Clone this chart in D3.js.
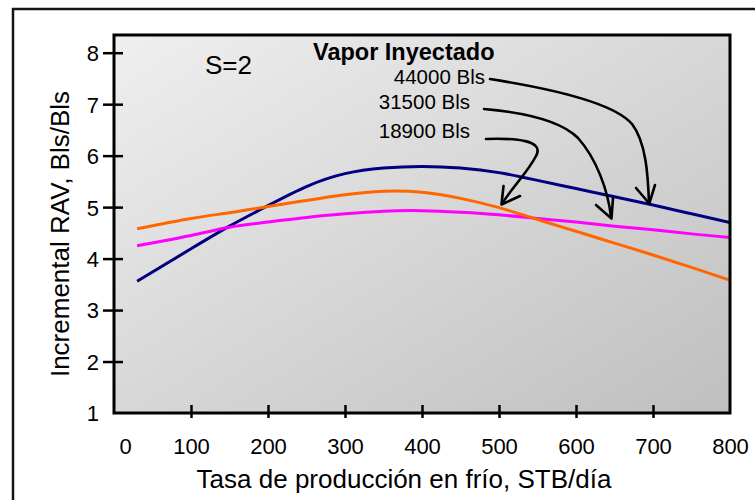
<!DOCTYPE html>
<html>
<head>
<meta charset="utf-8">
<script src="https://cdn.jsdelivr.net/npm/d3@7"></script>
<style>
  html, body { margin: 0; padding: 0; background: #fff; }
  svg { display: block; }
  text { font-family: "Liberation Sans", Arial, sans-serif; fill: #000; }
</style>
</head>
<body>
<svg id="chart" width="755" height="500"></svg>
<script>
// Tasa de producción en frío (STB/día)
const rate = [30, 100, 150, 200, 250, 300, 350, 400, 450, 500, 550, 600, 650, 700, 750, 800];
// Incremental RAV (Bls/Bls) for each volume of injected steam
const rav44000 = [3.56, 4.19, 4.63, 5.03, 5.40, 5.65, 5.76, 5.79, 5.76, 5.67, 5.52, 5.36, 5.20, 5.04, 4.87, 4.70];
const rav31500 = [4.25, 4.45, 4.61, 4.71, 4.80, 4.87, 4.92, 4.93, 4.90, 4.85, 4.78, 4.71, 4.63, 4.56, 4.48, 4.41];
const rav18900 = [4.58, 4.78, 4.89, 5.01, 5.13, 5.24, 5.31, 5.29, 5.17, 4.99, 4.76, 4.53, 4.30, 4.07, 3.83, 3.58];

const xTicks = [0, 100, 200, 300, 400, 500, 600, 700, 800];
const yTicks = [1, 2, 3, 4, 5, 6, 7, 8];

const seriesNames = ["44000 Bls", "31500 Bls", "18900 Bls"];
const seriesColors = ["#000080", "#ff00ff", "#ff6600"];

const svg = d3.select("#chart");

const plot = { left: 114, top: 35, right: 730, bottom: 413 };
const x = d3.scaleLinear().domain([0, 800]).range([plot.left, plot.right]);
const y = d3.scaleLinear().domain([1, 8]).range([plot.bottom, 52.7]);

// outer frame
svg.append("rect")
  .attr("x", 13).attr("y", 9).attr("width", 800).attr("height", 560)
  .attr("fill", "none").attr("stroke", "#151515").attr("stroke-width", 2.5);

// shaded plot background
const defs = svg.append("defs");
const grad = defs.append("linearGradient").attr("id", "bg")
  .attr("x1", 0).attr("y1", 0).attr("x2", 1).attr("y2", 1);
grad.append("stop").attr("offset", "0%").attr("stop-color", "#efefef");
grad.append("stop").attr("offset", "100%").attr("stop-color", "#bfbfbf");
defs.append("clipPath").attr("id", "clip").append("rect")
  .attr("x", plot.left).attr("y", plot.top)
  .attr("width", plot.right - plot.left).attr("height", plot.bottom - plot.top);

svg.append("rect")
  .attr("x", plot.left).attr("y", plot.top)
  .attr("width", plot.right - plot.left).attr("height", plot.bottom - plot.top)
  .attr("fill", "url(#bg)");

// curves
const line = d3.line().curve(d3.curveNatural)
  .x(d => x(d[0])).y(d => y(d[1]));
const series = [rav44000, rav31500, rav18900];
const gLines = svg.append("g").attr("clip-path", "url(#clip)");
series.forEach((vals, i) => {
  gLines.append("path")
    .datum(rate.map((r, k) => [r, vals[k]]))
    .attr("d", line)
    .attr("fill", "none")
    .attr("stroke", seriesColors[i])
    .attr("stroke-width", 3)
    .attr("stroke-linecap", "butt");
});

// plot border
svg.append("rect")
  .attr("x", plot.left).attr("y", plot.top)
  .attr("width", plot.right - plot.left).attr("height", plot.bottom - plot.top)
  .attr("fill", "none").attr("stroke", "#000").attr("stroke-width", 3);

// y axis
const yAxis = svg.append("g")
  .attr("transform", `translate(${plot.left},0)`)
  .call(d3.axisLeft(y).tickValues(yTicks).tickFormat(d3.format("d")).tickSize(11).tickPadding(4));
yAxis.select(".domain").remove();
yAxis.selectAll(".tick line")
  .attr("x1", 9).attr("x2", -11)
  .attr("stroke", "#000").attr("stroke-width", 2.5)
  .filter(d => d === 1).remove();
yAxis.selectAll(".tick text")
  .attr("x", -15).attr("dy", "0.36em")
  .style("font-size", "22px").style("font-family", "'Liberation Sans', Arial, sans-serif");

// x axis
const xAxis = svg.append("g")
  .attr("transform", `translate(0,${plot.bottom})`)
  .call(d3.axisBottom(x).tickValues(xTicks).tickFormat(d3.format("d")).tickSize(8));
xAxis.select(".domain").remove();
xAxis.selectAll(".tick line")
  .attr("y1", -8).attr("y2", 5)
  .attr("stroke", "#000").attr("stroke-width", 2.5)
  .filter(d => d === 0 || d === 800).remove();
xAxis.selectAll(".tick text")
  .attr("y", 41).attr("dy", 0)
  .style("font-size", "22px").style("font-family", "'Liberation Sans', Arial, sans-serif");
// the origin label sits a little inside the corner
xAxis.selectAll(".tick text").filter(d => d === 0).attr("x", 11);

// axis titles
svg.append("text")
  .attr("x", 404).attr("y", 488)
  .attr("text-anchor", "middle")
  .style("font-size", "26px")
  .text("Tasa de producción en frío, STB/día");
svg.append("text")
  .attr("transform", "translate(69,234) rotate(-90)")
  .attr("text-anchor", "middle")
  .style("font-size", "26px")
  .text("Incremental RAV, Bls/Bls");

// in-plot labels
svg.append("text")
  .attr("x", 205).attr("y", 74)
  .style("font-size", "26px")
  .text("S=2");
svg.append("text")
  .attr("x", 313).attr("y", 60)
  .style("font-size", "23.5px").style("font-weight", "bold")
  .text("Vapor Inyectado");

const labelPos = [[485, 84], [470, 108.5], [470, 138]];
seriesNames.forEach((name, i) => {
  svg.append("text")
    .attr("x", labelPos[i][0]).attr("y", labelPos[i][1])
    .attr("text-anchor", "end")
    .style("font-size", "20.5px")
    .text(name);
});

// hand-drawn style arrows from each label to its curve
const arrows = [
  { path: "M490,79 C560,90 615,104 632,124 C646,142 648,175 649,203",
    head: "M636,188 L649.3,203.5 L655,185" },
  { path: "M484,109 C530,113 562,122 578,138 C596,158 608,190 611,217",
    head: "M596,205 L611.5,218.5 L613,198" },
  { path: "M486,139 C515,138 545,140 536,156 C528,172 510,190 502,204",
    head: "M503.5,186 L501.5,204.5 L520,196" }
];
const gArrows = svg.append("g")
  .attr("fill", "none").attr("stroke", "#000")
  .attr("stroke-width", 2.6).attr("stroke-linecap", "round").attr("stroke-linejoin", "round");
arrows.forEach(a => {
  gArrows.append("path").attr("d", a.path);
  gArrows.append("path").attr("d", a.head);
});
</script>
</body>
</html>
